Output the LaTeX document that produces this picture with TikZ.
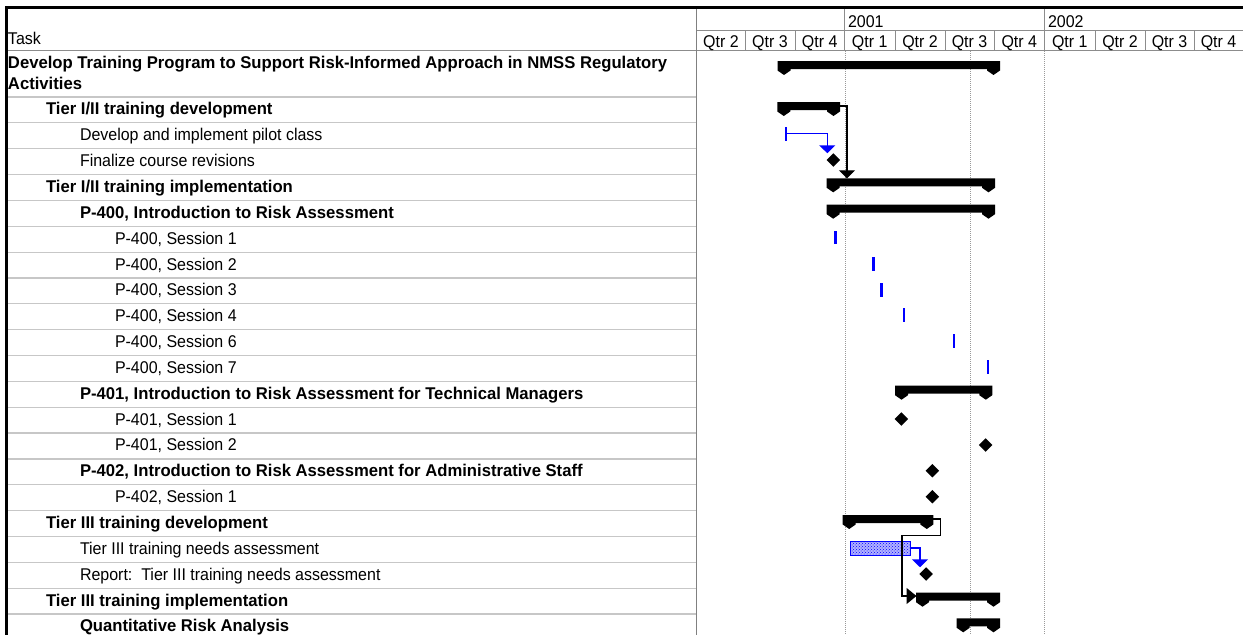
\documentclass[tikz,border=0pt]{standalone}
\usepackage{fontspec}
\setmainfont{Liberation Sans}[FakeStretch=0.94, BoldFeatures={FakeStretch=0.98}]
\usetikzlibrary{arrows.meta,shapes.geometric,patterns}

% summary bar with pointed end caps: name, start x, end x, top y
\newcommand\sumbar[4]{%
  \fill (#2,#4) -- (#3,#4) -- (#3,#4+9.5) -- (#3-6.5,#4+14) -- (#3-13,#4+9.5)
    -- (#3-13,#4+8) -- (#2+13,#4+8) -- (#2+13,#4+9.5) -- (#2+6.5,#4+14)
    -- (#2,#4+9.5) -- cycle;
  \coordinate (#1 w) at (#2,#4+4);
  \coordinate (#1 e) at (#3,#4+4);}

\begin{document}
\begin{tikzpicture}[x=1pt,y=-1pt,
  every node/.style={inner sep=0pt, outer sep=0pt},
  txt/.style={anchor=base west, font=\fontsize{17}{20}\selectfont},
  btxt/.style={anchor=base west, font=\fontsize{17}{20}\selectfont\bfseries},
  hdr/.style={anchor=base, font=\fontsize{17}{20}\selectfont},
  gridline/.style={draw=black!45, line width=1pt},
  rowline/.style={draw=black!22, line width=1.2pt},
  ms/.style={diamond, fill=black, inner sep=0pt, minimum width=13.5pt, minimum height=13.5pt},
  link/.style={draw=black, line width=1.2pt, -{Triangle[length=8pt,width=16pt]}},
  bluelink/.style={draw=blue, line width=1.5pt, -{Triangle[length=8pt,width=16pt]}},
  tick/.style={fill=blue},
  guide/.style={draw=black!40, line width=1pt, dash pattern=on 1pt off 1pt}]
\useasboundingbox (0,0) rectangle (1243,635);

% ---- grid -------------------------------------------------------------
\foreach \k in {0,...,20}
  \draw[rowline] (7,97+25.85*\k) -- (696,97+25.85*\k);
\draw[gridline] (697,30) -- (1243,30);
\draw[gridline] (7,50.5) -- (1243,50.5);
\foreach \b in {745,795,844.5,895,945,994,1044.5,1095,1145,1194}
  \draw[gridline] (\b,30) -- (\b,50.5);
\foreach \b in {844.5,1044.5}
  \draw[gridline] (\b,9) -- (\b,30);
\draw[draw=black!50, line width=1.6pt] (696.5,9) -- (696.5,635);
\foreach \b in {845,970,1044.5}
  \draw[guide] (\b,51) -- (\b,635);
% outer frame
\draw[line width=3pt] (5,7.5) -- (1243,7.5);
\draw[line width=3pt] (6.5,6) -- (6.5,635);

% ---- headings ---------------------------------------------------------
\node[txt] (task) at (8,44.5) {Task};
\node[txt] (y2001) at (848,27) {2001};
\node[txt] (y2002) at (1048,27) {2002};
\foreach \c/\q in {721/2,770/3,819.75/4,869.75/1,920/2,969.5/3,1019.25/4,1069.75/1,1120/2,1169.5/3,1218.5/4}
  \node[hdr] at (\c,47.5) {Qtr \q};

% ---- task names -------------------------------------------------------
\node[btxt] (r0a) at (8,68.5) {Develop Training Program to Support Risk-Informed Approach in NMSS Regulatory};
\node[btxt] (r0b) at (8,89) {Activities};
\node[btxt] (t0)  at (46,114.9+25.85*0)  {Tier I/II training development};
\node[txt]  (t1)  at (80,114.9+25.85*1)  {Develop and implement pilot class};
\node[txt]  (t2)  at (80,114.9+25.85*2)  {Finalize course revisions};
\node[btxt] (t3)  at (46,114.9+25.85*3)  {Tier I/II training implementation};
\node[btxt] (t4)  at (80,114.9+25.85*4)  {P-400, Introduction to Risk Assessment};
\node[txt]  (t5)  at (115,114.9+25.85*5) {P-400, Session 1};
\node[txt]  (t6)  at (115,114.9+25.85*6) {P-400, Session 2};
\node[txt]  (t7)  at (115,114.9+25.85*7) {P-400, Session 3};
\node[txt]  (t8)  at (115,114.9+25.85*8) {P-400, Session 4};
\node[txt]  (t9)  at (115,114.9+25.85*9) {P-400, Session 6};
\node[txt]  (t10) at (115,114.9+25.85*10) {P-400, Session 7};
\node[btxt] (t11) at (80,114.9+25.85*11) {P-401, Introduction to Risk Assessment for Technical Managers};
\node[txt]  (t12) at (115,114.9+25.85*12) {P-401, Session 1};
\node[txt]  (t13) at (115,114.9+25.85*13) {P-401, Session 2};
\node[btxt] (t14) at (80,114.9+25.85*14) {P-402, Introduction to Risk Assessment for Administrative Staff};
\node[txt]  (t15) at (115,114.9+25.85*15) {P-402, Session 1};
\node[btxt] (t16) at (46,114.9+25.85*16) {Tier III training development};
\node[txt]  (t17) at (80,114.9+25.85*17) {Tier III training needs assessment};
\node[txt]  (t18) at (80,114.9+25.85*18) {Report:\ \ Tier III training needs assessment};
\node[btxt] (t19) at (46,114.9+25.85*19) {Tier III training implementation};
\node[btxt] (t20) at (80,114.9+25.85*20) {Quantitative Risk Analysis};

% ---- summary bars -----------------------------------------------------
\sumbar{prog}{777.5}{1000}{61}
\sumbar{t1dev}{777.3}{840}{102}
\sumbar{t1imp}{826.7}{995}{178.3}
\sumbar{p400}{826.7}{995}{204.7}
\sumbar{p401}{895}{992.3}{385.7}
\sumbar{t3dev}{842.7}{933.3}{515}
\sumbar{t3imp}{916}{1000}{592.7}
\sumbar{qra}{956.7}{1000}{618.3}

% ---- short tasks ------------------------------------------------------
\fill[tick] (784.8,127) rectangle (787.3,141);
\coordinate (pilot) at (786,133.7);
\fill[tick] (834,230.7) rectangle (836.8,244.3);
\fill[tick] (872.3,256.7) rectangle (875.1,270.5);
\fill[tick] (879.9,282.5) rectangle (882.7,296.5);
\fill[tick] (903.2,308.3) rectangle (904.8,322.2);
\fill[tick] (952.9,334.2) rectangle (954.5,348);
\fill[tick] (987.2,360) rectangle (988.8,374);

% Tier III needs assessment bar
\filldraw[draw=blue, fill=blue!30, line width=1pt] (850.7,541.3) rectangle (910.7,555);
\fill[pattern=crosshatch dots, pattern color=blue] (850.7,541.3) rectangle (910.7,555);
\coordinate (needs e) at (910.7,548);

% ---- milestones -------------------------------------------------------
\node[ms] (fin)  at (833.3,160) {};
\node[ms] (s401a) at (901.3,419) {};
\node[ms] (s401b) at (985.7,445) {};
\node[ms] (p402) at (932.3,470.7) {};
\node[ms] (s402) at (932.3,496.7) {};
\node[ms] (rep)  at (926,574) {};

% ---- links ------------------------------------------------------------
\coordinate (t1imp in) at (847,178.3);
\draw[link] (t1dev e) -| (t1imp in);
\draw[bluelink] (pilot) -| ([xshift=-6pt]fin.north);
\coordinate (t3imp in) at (916.5,596);
\draw[link, -{Triangle[length=10pt,width=16pt]}] (t3dev e) -- ++(7,0) -- ++(0,16.7) -- ++(-38.3,0) |- (t3imp in);
\draw[bluelink] (needs e) -| ([xshift=-6pt]rep.north);
\end{tikzpicture}
\end{document}
